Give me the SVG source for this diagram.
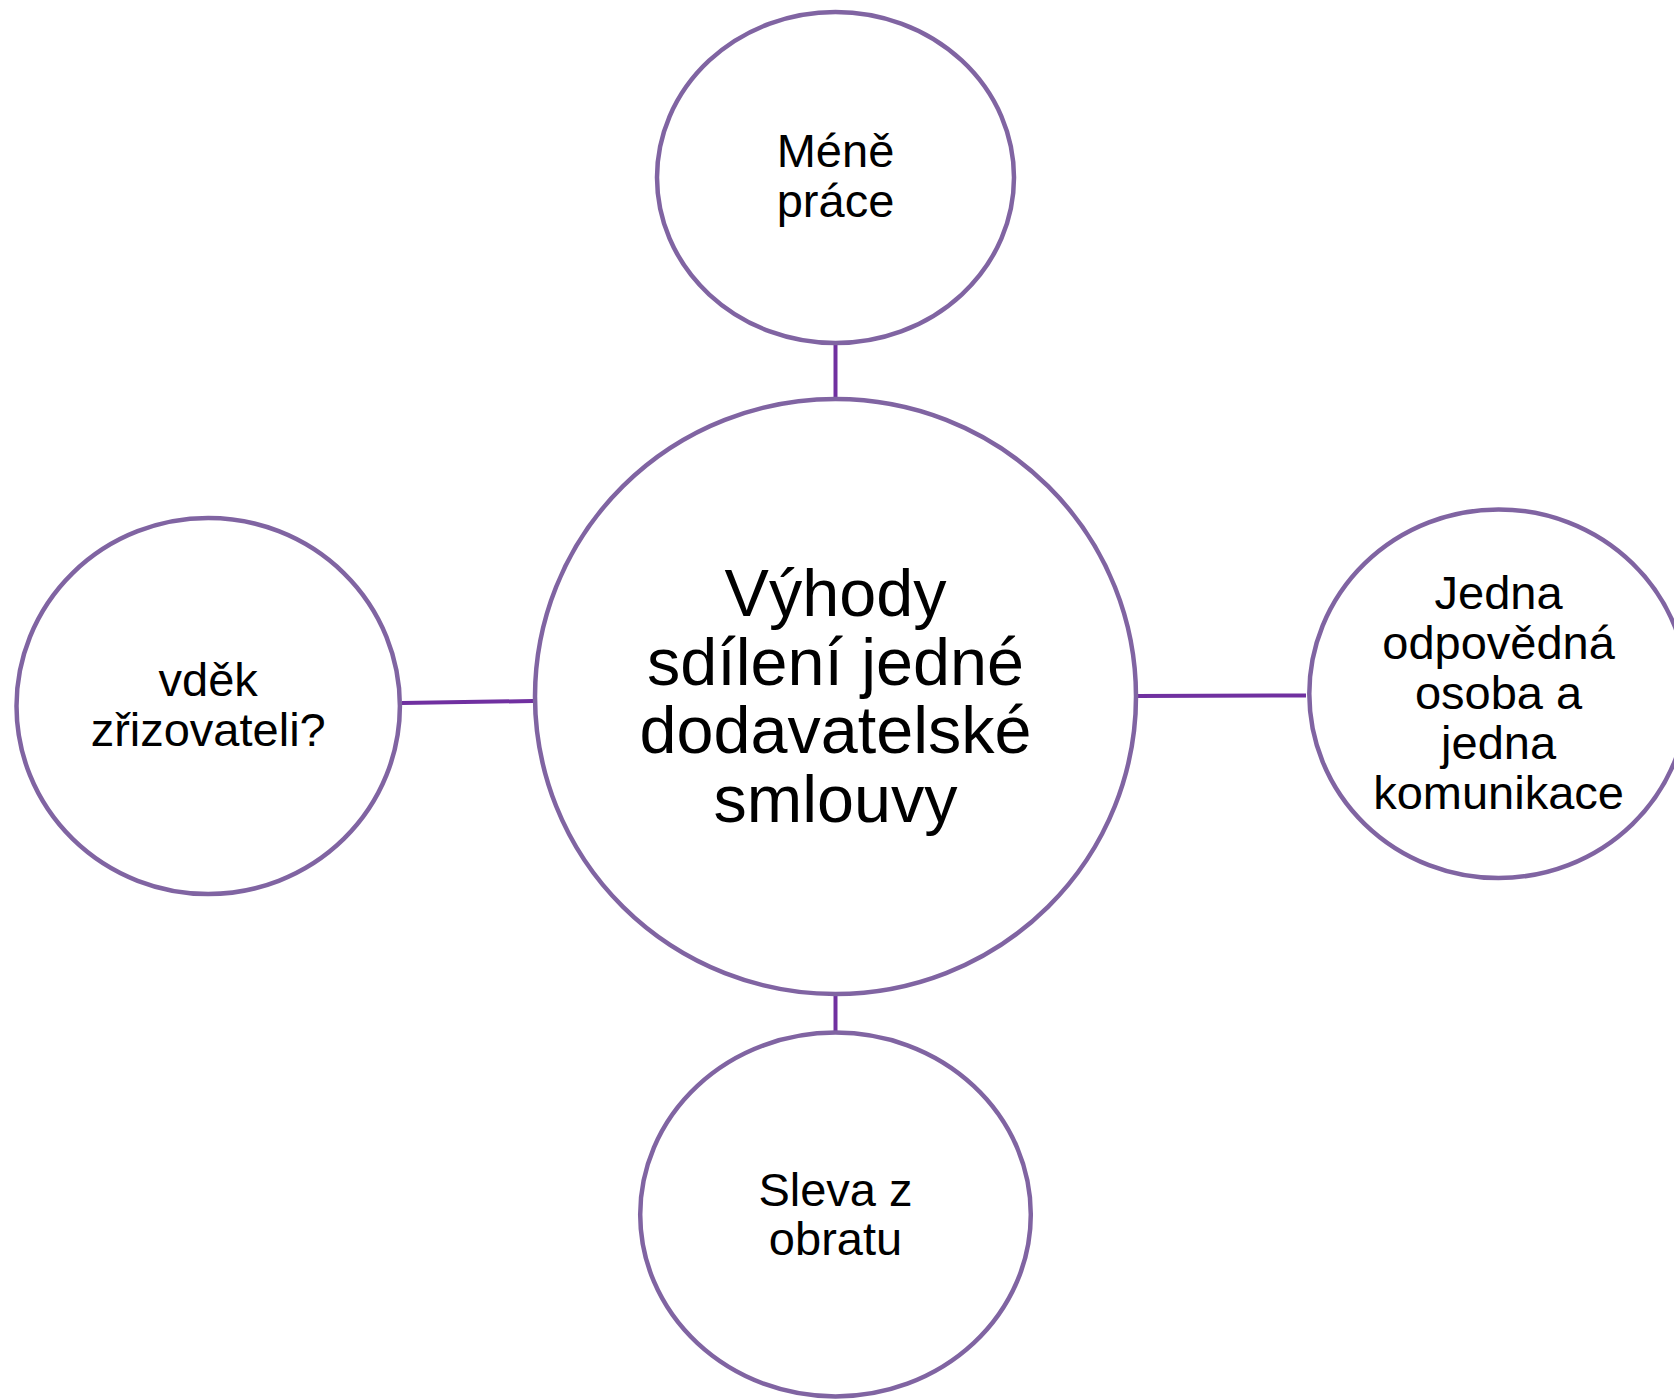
<svg xmlns="http://www.w3.org/2000/svg" width="1674" height="1400" viewBox="0 0 1674 1400">
<style>
.node{fill:#FFFFFF;stroke:#8064A2;stroke-width:4.5}
.conn{stroke:#7030A0;stroke-width:4;fill:none}
.t{font-family:"Liberation Sans",Arial,sans-serif;fill:#000000;text-anchor:middle}
.s{font-size:47px}
.c{font-size:66.5px}
</style>
<rect width="1674" height="1400" fill="#FFFFFF"/>
<g id="connectors">
<line class="conn" x1="835.5" y1="345" x2="835.5" y2="398"/>
<line class="conn" x1="402" y1="703" x2="533" y2="701"/>
<line class="conn" x1="1137" y1="696" x2="1306" y2="695.5"/>
<line class="conn" x1="835.5" y1="995" x2="835.5" y2="1032"/>
</g>
<g id="center">
<ellipse class="node" cx="835.5" cy="696.5" rx="300.5" ry="297.5"/>
<text class="t c"><tspan x="835.5" y="616">Výhody</tspan><tspan x="835.5" y="684.5">sdílení jedné</tspan><tspan x="835.5" y="753">dodavatelské</tspan><tspan x="835.5" y="821.5">smlouvy</tspan></text>
</g>
<g id="top">
<ellipse class="node" cx="835.5" cy="177.5" rx="178.5" ry="165.5"/>
<text class="t s"><tspan x="835.5" y="167">Méně</tspan><tspan x="835.5" y="217">práce</tspan></text>
</g>
<g id="left">
<ellipse class="node" cx="208.2" cy="706" rx="191.7" ry="188"/>
<text class="t s"><tspan x="208.2" y="695.5">vděk</tspan><tspan x="208.2" y="745.5">zřizovateli?</tspan></text>
</g>
<g id="right">
<ellipse class="node" cx="1498.6" cy="693.7" rx="189.3" ry="184.3"/>
<text class="t s"><tspan x="1498.6" y="608.5">Jedna</tspan><tspan x="1498.6" y="658.5">odpovědná</tspan><tspan x="1498.6" y="708.5">osoba a</tspan><tspan x="1498.6" y="758.5">jedna</tspan><tspan x="1498.6" y="808.5">komunikace</tspan></text>
</g>
<g id="bottom">
<ellipse class="node" cx="835.5" cy="1214.5" rx="195.3" ry="182"/>
<text class="t s"><tspan x="835.5" y="1206">Sleva z</tspan><tspan x="835.5" y="1255">obratu</tspan></text>
</g>
</svg>
